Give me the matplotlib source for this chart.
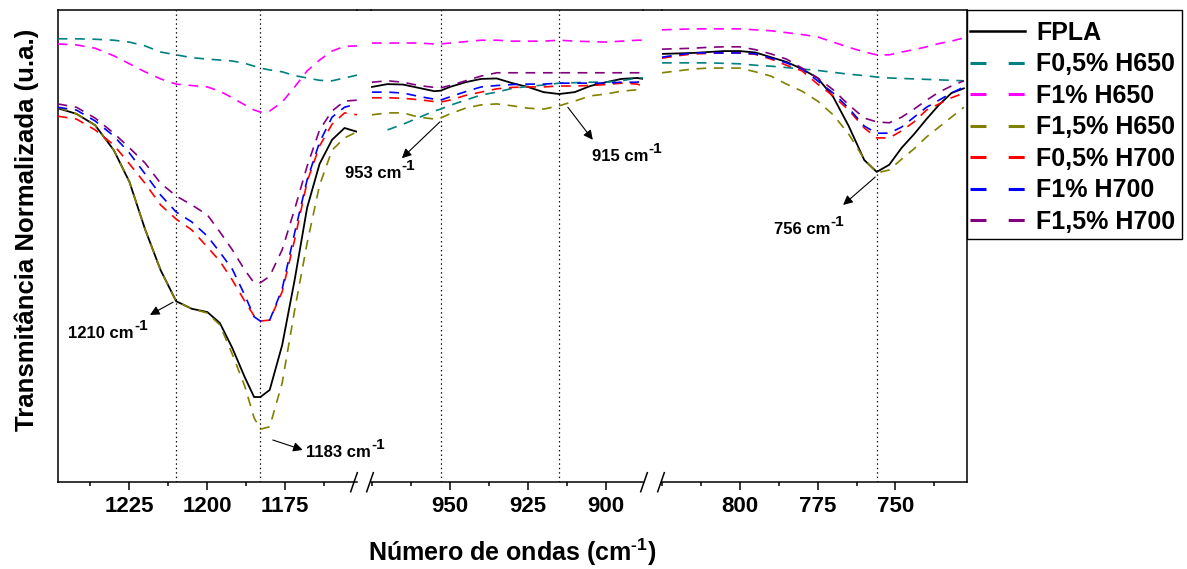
import matplotlib
matplotlib.use("Agg")
import matplotlib.pyplot as plt
from matplotlib.lines import Line2D
from matplotlib.patches import Rectangle
from matplotlib.ticker import MultipleLocator

plt.rcParams['font.family'] = ['Liberation Sans', 'DejaVu Sans']
plt.rcParams['font.weight'] = 'bold'
plt.rcParams['mathtext.fontset'] = 'custom'
plt.rcParams['mathtext.rm'] = 'Liberation Sans:bold'
plt.rcParams['mathtext.bf'] = 'Liberation Sans:bold'
plt.rcParams['mathtext.default'] = 'rm'
plt.rcParams['lines.scale_dashes'] = False

# numero de onda (cm-1) em cada trecho do eixo quebrado
wn_1 = [1248, 1242, 1236, 1230, 1225, 1220, 1215, 1210, 1205, 1200, 1196, 1192,
        1188, 1185, 1183, 1180, 1176, 1172, 1168, 1164, 1160, 1156, 1152]
wn_2 = [975, 970, 965, 960, 955, 953, 950, 945, 940, 935, 930, 925, 920, 915,
        910, 905, 900, 895, 890, 888]
wn_3 = [825, 820, 815, 810, 805, 800, 795, 790, 785, 780, 775, 770, 765, 760,
        756, 752, 748, 744, 740, 736, 732, 728]

# transmitancia normalizada (u.a.)
fpla_1 = [79.2, 78.0, 75.6, 70.3, 63.6, 53.6, 44.9, 38.3, 36.7, 36.0, 33.7, 28.4,
          22.2, 18.0, 18.0, 19.5, 29.0, 42.8, 58.1, 67.4, 72.5, 75.0, 74.2]
fpla_2 = [83.7, 84.3, 84.2, 83.5, 82.8, 82.9, 83.7, 84.7, 85.4, 85.5, 84.5, 83.7,
          82.6, 82.2, 82.6, 83.9, 84.7, 85.4, 85.6, 85.4]
fpla_3 = [90.7, 90.8, 90.9, 91.1, 91.3, 91.3, 91.0, 90.0, 89.0, 87.5, 85.6, 81.6,
          75.4, 68.2, 65.7, 67.2, 70.8, 73.7, 76.9, 79.9, 82.4, 83.4]

f05_h650_1 = [93.9, 93.9, 93.8, 93.6, 93.2, 92.4, 91.1, 90.5, 89.9, 89.6, 89.4, 89.2,
              88.7, 88.1, 87.7, 87.3, 86.9, 86.1, 85.6, 85.1, 85.0, 85.6, 86.2]
f05_h650_2 = [None, 74.6, 75.8, 77.2, 78.6, 79.0, 79.8, 80.9, 82.0, 82.6, 83.4, 83.8,
              84.1, 84.5, 84.6, 84.7, 84.7, 85.0, 85.6, 85.6]
f05_h650_3 = [88.8, 88.8, 88.8, 88.8, 88.7, 88.6, 88.3, 88.1, 87.8, 87.5, 87.2, 86.8,
              86.4, 86.1, 85.8, 85.6, 85.5, 85.4, 85.3, 85.2, 85.1, 85.0]

f1_h650_1 = [92.8, 92.6, 91.9, 90.3, 88.6, 86.9, 85.4, 84.3, 84.0, 83.7, 82.8, 81.4,
             79.9, 78.8, 78.4, 78.6, 80.5, 83.7, 87.1, 89.4, 91.3, 92.3, 92.4]
f1_h650_2 = [93.0, 93.0, 93.0, 93.0, 92.8, 92.8, 93.0, 93.3, 93.6, 93.6, 93.4, 93.4,
             93.4, 93.6, 93.4, 93.3, 93.2, 93.4, 93.6, 93.6]
f1_h650_3 = [95.8, 95.9, 96.0, 96.0, 96.0, 96.0, 95.8, 95.6, 95.2, 94.8, 94.3, 93.2,
             92.1, 91.1, 90.5, 90.5, 91.1, 91.6, 92.2, 92.9, 93.4, 94.1]

f15_h650_1 = [79.4, 78.0, 75.6, 70.3, 63.6, 53.6, 44.9, 38.3, 36.7, 35.8, 33.3, 27.1,
              20.3, 13.6, 11.2, 11.7, 21.0, 36.4, 50.6, 62.9, 70.3, 72.9, 74.2]
f15_h650_2 = [77.8, 78.2, 78.2, 77.3, 76.9, 77.1, 78.0, 79.2, 79.9, 80.1, 79.7, 79.2,
              79.0, 79.7, 80.7, 81.8, 82.2, 82.8, 83.1, 83.1]
f15_h650_3 = [86.7, 87.1, 87.5, 87.7, 87.7, 87.7, 86.9, 86.0, 84.3, 82.8, 80.7, 77.8,
              73.7, 68.4, 65.5, 66.1, 68.4, 70.6, 73.1, 75.2, 77.3, 79.4]

f05_h700_1 = [77.5, 76.9, 74.6, 71.4, 67.4, 63.3, 58.7, 55.7, 53.4, 49.8, 46.8, 42.8,
              38.3, 35.2, 34.1, 34.3, 40.3, 51.3, 63.6, 71.2, 75.8, 78.2, 77.8]
f05_h700_2 = [81.4, 81.4, 81.3, 81.0, 80.6, 80.5, 80.9, 81.9, 82.6, 83.3, 83.6, 83.7,
              83.7, 83.9, 83.9, 84.0, 84.2, 84.5, 84.3, 83.9]
f05_h700_3 = [89.8, 90.3, 90.7, 90.8, 90.9, 90.9, 90.6, 89.6, 88.3, 87.1, 84.3, 81.8,
              78.8, 75.0, 72.9, 72.9, 74.4, 76.3, 78.8, 80.1, 81.4, 82.4]

f1_h700_1 = [79.4, 78.8, 76.5, 73.3, 69.7, 65.3, 60.8, 57.2, 55.1, 52.1, 48.7, 45.1,
             39.6, 35.0, 34.1, 34.3, 40.9, 52.8, 64.0, 72.0, 77.3, 79.4, 80.1]
f1_h700_2 = [82.6, 82.6, 82.4, 81.7, 81.1, 80.9, 81.6, 82.7, 83.7, 84.0, 84.2, 84.3,
             84.3, 84.5, 84.5, 84.5, 84.5, 84.7, 84.7, 85.0]
f1_h700_3 = [90.0, 90.5, 90.9, 90.9, 90.9, 90.9, 90.7, 89.8, 88.8, 87.5, 85.0, 82.4,
             79.2, 75.4, 73.9, 73.9, 75.2, 77.3, 79.4, 80.9, 82.4, 83.7]

f15_h700_1 = [80.1, 79.4, 77.1, 73.9, 70.8, 67.6, 63.3, 60.6, 58.7, 56.6, 53.0, 49.2,
              44.9, 42.2, 42.2, 43.6, 49.2, 57.8, 66.9, 74.6, 78.6, 80.7, 80.9]
f15_h700_2 = [84.7, 85.0, 84.7, 84.0, 83.6, 83.5, 84.0, 85.0, 86.0, 86.7, 86.7, 86.7,
              86.7, 86.7, 86.7, 86.7, 86.7, 86.7, 86.7, 86.7]
f15_h700_3 = [91.7, 91.8, 91.9, 92.1, 92.2, 92.2, 91.6, 90.7, 89.6, 87.7, 85.6, 83.1,
              79.9, 77.1, 76.3, 76.1, 77.3, 79.0, 80.9, 82.6, 83.9, 85.0]

labels = ['FPLA', 'F0,5% H650', 'F1% H650', 'F1,5% H650', 'F0,5% H700', 'F1% H700', 'F1,5% H700']
colors = ['black', '#008080', '#FF00FF', '#808000', '#FF0000', '#0000FF', '#800080']
series = [
    (fpla_1, fpla_2, fpla_3),
    (f05_h650_1, f05_h650_2, f05_h650_3),
    (f1_h650_1, f1_h650_2, f1_h650_3),
    (f15_h650_1, f15_h650_2, f15_h650_3),
    (f05_h700_1, f05_h700_2, f05_h700_3),
    (f1_h700_1, f1_h700_2, f1_h700_3),
    (f15_h700_1, f15_h700_2, f15_h700_3),
]
wns = [wn_1, wn_2, wn_3]
limites = [(1247.9, 1152), (975.3, 888.1), (825.0, 727.0)]
picos = [[1210, 1183], [953, 915], [756]]
maiores = [[1225, 1200, 1175], [950, 925, 900], [800, 775, 750]]

W, H = 1187, 569
fig = plt.figure(figsize=(W / 100, H / 100), dpi=100)


def caixa(x0, x1, topo=10, base=482):
    return [x0 / W, 1 - base / H, (x1 - x0) / W, (base - topo) / H]


ax1 = fig.add_axes(caixa(58, 357))
ax2 = fig.add_axes(caixa(371, 643))
ax3 = fig.add_axes(caixa(662, 967))
eixos = [ax1, ax2, ax3]

lw_eixo = 1.1
for i, ax in enumerate(eixos):
    ax.patch.set_visible(False)
    for j, s in enumerate(series):
        y = [float('nan') if v is None else v for v in s[i]]
        if j == 0:
            ax.plot(wns[i], y, color=colors[j], lw=1.3, zorder=3)
        else:
            ax.plot(wns[i], y, color=colors[j], lw=1.2, dashes=(7, 5.5), zorder=3)
    for p in picos[i]:
        ax.axvline(p, color='black', lw=0.9, linestyle=(0, (1, 2.2)), zorder=1)
    ax.set_xlim(limites[i])
    ax.set_ylim(0, 100)
    ax.set_yticks([])
    ax.set_xticks(maiores[i])
    ax.xaxis.set_minor_locator(MultipleLocator(12.5))
    ax.tick_params(axis='x', which='major', direction='out', length=6, width=lw_eixo,
                   labelsize=16, pad=4)
    ax.tick_params(axis='x', which='minor', direction='out', length=3, width=lw_eixo)
    for sp in ax.spines.values():
        sp.set_linewidth(lw_eixo)
    for lbl in ax.get_xticklabels():
        lbl.set_fontweight('bold')
ax1.spines['right'].set_visible(False)
ax2.spines['left'].set_visible(False)
ax2.spines['right'].set_visible(False)
ax3.spines['left'].set_visible(False)

# linha de cima continua e marcas de quebra
ytop = 1 - 10 / H
for a, b in [(357, 371), (643, 662)]:
    fig.add_artist(Line2D([a / W, b / W], [ytop, ytop], color='black', lw=lw_eixo))
for xc in [354, 370, 644, 661]:
    fig.add_artist(Line2D([(xc - 3.3) / W, (xc + 3.3) / W],
                          [1 - 491.7 / H, 1 - 472.7 / H], color='black', lw=lw_eixo))

# setas dos picos
seta = dict(arrowstyle='-|>', color='black', lw=0.8, mutation_scale=14, shrinkA=0, shrinkB=0)
fs_pico = 12


def pico(ax, x, y, numero):
    t = ax.text(x, y, numero + ' cm', fontsize=fs_pico, va='baseline')
    ax.annotate('-1', xy=(1, 0.72), xycoords=t, xytext=(0.3, 0), textcoords='offset points',
                fontsize=11, va='baseline', ha='left')


ax1.annotate('', xy=(1218.4, 35.4), xytext=(1211.0, 38.1), arrowprops=seta)
pico(ax1, 1244.6, 30.5, '1210')
ax1.annotate('', xy=(1169.4, 6.8), xytext=(1179.0, 8.9), arrowprops=seta)
pico(ax1, 1168.4, 5.4, '1183')
ax2.annotate('', xy=(965.4, 68.6), xytext=(953.2, 76.3), arrowprops=seta)
pico(ax2, 983.7, 64.4, '953')
ax2.annotate('', xy=(904.2, 72.5), xytext=(912.2, 79.4), arrowprops=seta)
pico(ax2, 904.5, 68.1, '915')
ax3.annotate('', xy=(766.8, 58.7), xytext=(756.5, 64.6), arrowprops=seta)
pico(ax3, 789.1, 52.5, '756')

fig.text(512 / W, 1 - 552 / H, 'Número de ondas (cm$^{\u20101}$)', ha='center', va='center',
         fontsize=18, fontweight='bold')
fig.text(27 / W, 1 - 230 / H, 'Transmitância Normalizada (u.a.)', ha='center', va='center',
         rotation=90, fontsize=18.5, fontweight='bold')

# legenda com tracos longos e moldura propria
handles = []
for j in range(len(labels)):
    if j == 0:
        handles.append(Line2D([], [], color=colors[j], lw=1.8))
    else:
        handles.append(Line2D([], [], color=colors[j], lw=2.2, dashes=(11.5, 16)))
fig.add_artist(Rectangle((967 / W, 1 - 239 / H), 215 / W, 229 / H, transform=fig.transFigure,
                         fill=False, edgecolor='black', lw=1.0))
fig.legend(handles, labels, loc='upper left', bbox_to_anchor=(966 / W, 1 - 17 / H),
           borderaxespad=0, frameon=False, prop={'weight': 'bold', 'size': 18},
           handlelength=2.2, handletextpad=0.45, labelspacing=0.30, borderpad=0.15)

fig.savefig('out.png', dpi=100)
